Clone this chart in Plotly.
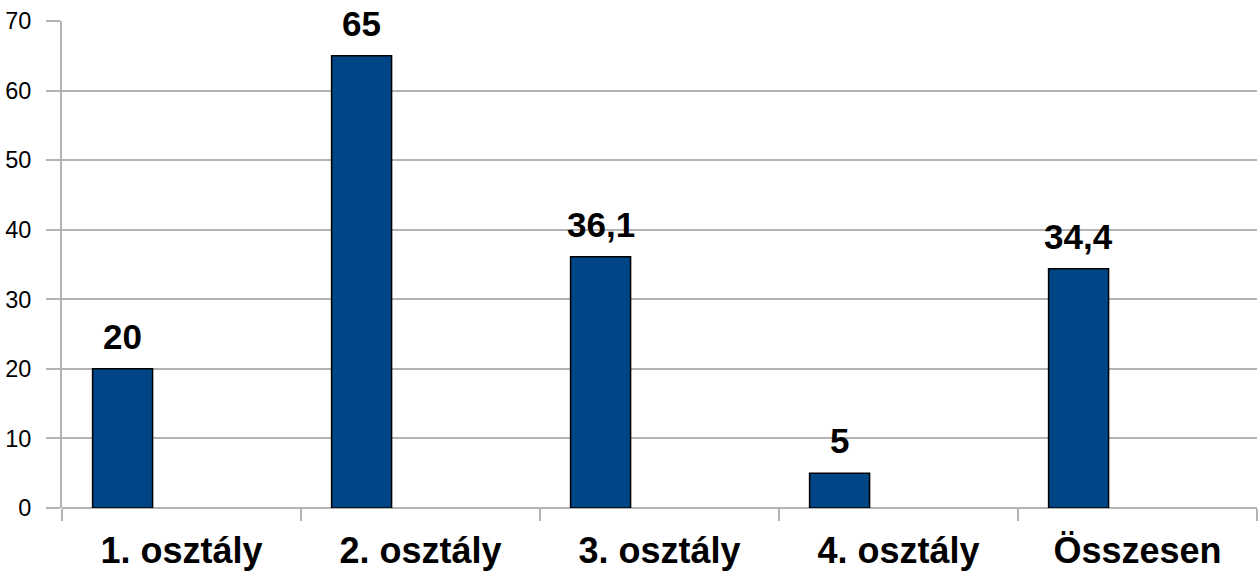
import plotly.graph_objects as go

categories = ["1. osztály", "2. osztály", "3. osztály", "4. osztály", "Összesen"]
values = [20, 65, 36.1, 5, 34.4]
y_ticks = [0, 10, 20, 30, 40, 50, 60, 70]

labels = [str(v).replace(".", ",") for v in values]

GRID = "#b3b3b3"
FONT = "Liberation Sans, Arial, sans-serif"
BAR_OFFSET = -0.372
BAR_WIDTH = 0.251

fig = go.Figure(
    go.Bar(
        x=categories,
        y=values,
        offset=BAR_OFFSET,
        width=BAR_WIDTH,
        marker=dict(color="#004586", line=dict(color="black", width=1.5)),
    )
)

for i, (v, t) in enumerate(zip(values, labels)):
    fig.add_annotation(
        x=i + BAR_OFFSET + BAR_WIDTH / 2,
        y=v,
        text=t,
        showarrow=False,
        yanchor="bottom",
        yshift=11,
        font=dict(family=FONT, size=35, color="black", weight="bold"),
    )

fig.update_layout(
    width=1258,
    height=571,
    margin=dict(l=62, r=1, t=21, b=63),
    paper_bgcolor="white",
    plot_bgcolor="white",
    showlegend=False,
    font=dict(family=FONT, color="black"),
)

fig.update_xaxes(
    type="category",
    tickson="boundaries",
    ticks="outside",
    ticklen=12,
    tickwidth=2,
    tickcolor=GRID,
    showgrid=False,
    showline=False,
    tickfont=dict(family=FONT, size=36, color="black", weight="bold"),
    ticklabelstandoff=18,
)

fig.update_yaxes(
    range=[0, 70],
    tickvals=y_ticks,
    ticks="outside",
    ticklen=14,
    tickwidth=2,
    tickcolor=GRID,
    showgrid=True,
    gridcolor=GRID,
    gridwidth=2,
    showline=True,
    linecolor=GRID,
    linewidth=2,
    zeroline=True,
    zerolinecolor=GRID,
    zerolinewidth=2,
    tickfont=dict(family=FONT, size=23.5, color="black"),
    ticklabelstandoff=10,
)

fig.write_html(
    "out.html",
    config={"responsive": False, "displayModeBar": False},
    post_script="document.body.style.margin='0';document.body.style.overflow='hidden';",
)
